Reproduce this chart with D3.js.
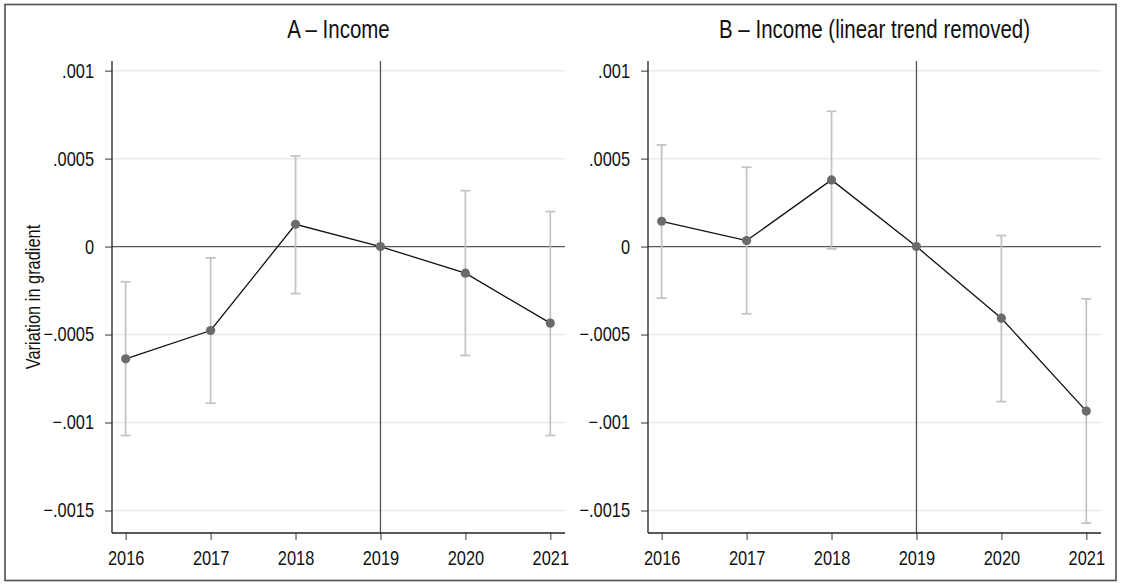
<!DOCTYPE html>
<html>
<head>
<meta charset="utf-8">
<script src="https://cdn.jsdelivr.net/npm/d3@7"></script>
<style>
  body { margin: 0; background: #fff; }
  svg { display: block; }
  text { font-family: "Liberation Sans", Arial, sans-serif; fill: #111; }
</style>
</head>
<body>
<div id="chart"></div>
<script>
// years and estimates
const years = [2016, 2017, 2018, 2019, 2020, 2021];

const incomeCoef = [-0.000638, -0.000477, 0.000127, 0, -0.000151, -0.000435];
const incomeLo   = [-0.001074, -0.00089, -0.000267, null, -0.000619, -0.001074];
const incomeHi   = [-0.0002, -0.000064, 0.000515, null, 0.000318, 0.000199];

const trendCoef = [0.000144, 0.000034, 0.000379, 0, -0.000407, -0.000935];
const trendLo   = [-0.000293, -0.000382, -0.000013, null, -0.000881, -0.001572];
const trendHi   = [0.000578, 0.000451, 0.000769, null, 0.000063, -0.000297];

const yTicks = [0.001, 0.0005, 0, -0.0005, -0.001, -0.0015];
const yTickLabels = [".001", ".0005", "0", "\u2212.0005", "\u2212.001", "\u2212.0015"];

const panelTitles = ["A \u2013 Income", "B \u2013 Income (linear trend removed)"];
const yTitle = "Variation in gradient";
const refYear = 2019;

const W = 1121, H = 585;
const NARROW = 0.82;  // squeeze regular sans to look like Arial Narrow

const svg = d3.select("#chart").append("svg")
    .attr("width", W)
    .attr("height", H);

svg.append("rect").attr("width", W).attr("height", H).attr("fill", "#fff");

// outer frame
svg.append("rect")
    .attr("x", 5).attr("y", 4.5)
    .attr("width", 1111).attr("height", 576)
    .attr("fill", "none")
    .attr("stroke", "#505050")
    .attr("stroke-width", 1.6);

const plotTop = 61, plotBottom = 533;

const y = d3.scaleLinear()
    .domain([-0.001628, 0.001055])
    .range([plotBottom, plotTop]);

// condense text horizontally, keeping its x anchor in place
function narrow(sel) {
    sel.each(function() {
        const t = d3.select(this);
        const x0 = +t.attr("x") || 0;
        t.attr("x", x0 / NARROW).attr("transform", `scale(${NARROW},1)`);
    });
}

function drawPanel(left, title, coef, lo, hi, showYTitle) {
    const right = left + 453;
    const x = d3.scaleLinear()
        .domain([2015.839, 2021.173])
        .range([left, right]);

    const g = svg.append("g");

    // grid lines
    g.append("g").selectAll("line")
        .data(yTicks.filter(d => d !== 0))
      .enter().append("line")
        .attr("x1", left).attr("x2", right)
        .attr("y1", d => y(d)).attr("y2", d => y(d))
        .attr("stroke", "#eaeaea")
        .attr("stroke-width", 1.5);

    // zero line and reference year line
    g.append("line")
        .attr("x1", left).attr("x2", right)
        .attr("y1", y(0)).attr("y2", y(0))
        .attr("stroke", "#555").attr("stroke-width", 1.3);
    g.append("line")
        .attr("x1", x(refYear)).attr("x2", x(refYear))
        .attr("y1", plotTop).attr("y2", plotBottom)
        .attr("stroke", "#555").attr("stroke-width", 1.3);

    // y axis
    const yAxis = g.append("g")
        .attr("transform", `translate(${left},0)`)
        .call(d3.axisLeft(y).tickValues(yTicks)
            .tickFormat((d, i) => yTickLabels[i])
            .tickSize(7).tickPadding(11));
    yAxis.select(".domain").remove();
    yAxis.selectAll(".tick line").attr("stroke", "#666").attr("stroke-width", 1.3);
    yAxis.selectAll("text").attr("font-size", 20).attr("font-family", null).attr("fill", "#111")
        .call(narrow);
    g.append("line")
        .attr("x1", left).attr("x2", left)
        .attr("y1", plotTop).attr("y2", plotBottom)
        .attr("stroke", "#222").attr("stroke-width", 1.3);

    // x axis
    const xAxis = g.append("g")
        .attr("transform", `translate(0,${plotBottom})`)
        .call(d3.axisBottom(x).tickValues(years)
            .tickFormat(d3.format("d"))
            .tickSize(7).tickPadding(11));
    xAxis.select(".domain").remove();
    xAxis.selectAll(".tick line").attr("stroke", "#666").attr("stroke-width", 1.3);
    xAxis.selectAll("text").attr("font-size", 20).attr("font-family", null).attr("fill", "#111")
        .call(narrow);
    g.append("line")
        .attr("x1", left).attr("x2", right)
        .attr("y1", plotBottom).attr("y2", plotBottom)
        .attr("stroke", "#222").attr("stroke-width", 1.3);

    // confidence intervals
    const ci = years.map((yr, i) => ({yr, lo: lo[i], hi: hi[i]})).filter(d => d.lo !== null);
    const bars = g.append("g").attr("stroke", "#c2c2c2").attr("stroke-width", 1.7);
    bars.selectAll(".ci").data(ci).enter().append("line")
        .attr("x1", d => x(d.yr)).attr("x2", d => x(d.yr))
        .attr("y1", d => y(d.lo)).attr("y2", d => y(d.hi));
    bars.selectAll(".capHi").data(ci).enter().append("line")
        .attr("x1", d => x(d.yr) - 5).attr("x2", d => x(d.yr) + 5)
        .attr("y1", d => y(d.hi)).attr("y2", d => y(d.hi));
    bars.selectAll(".capLo").data(ci).enter().append("line")
        .attr("x1", d => x(d.yr) - 5).attr("x2", d => x(d.yr) + 5)
        .attr("y1", d => y(d.lo)).attr("y2", d => y(d.lo));

    // estimate line + markers
    const pts = years.map((yr, i) => ({yr, v: coef[i]}));
    g.append("path")
        .datum(pts)
        .attr("fill", "none")
        .attr("stroke", "#111")
        .attr("stroke-width", 1.3)
        .attr("d", d3.line().x(d => x(d.yr)).y(d => y(d.v)));
    g.selectAll(".dot").data(pts).enter().append("circle")
        .attr("cx", d => x(d.yr))
        .attr("cy", d => y(d.v))
        .attr("r", 4.6)
        .attr("fill", "#6b6b6b");

    // title
    svg.append("text")
        .attr("x", (left + right) / 2)
        .attr("y", 38)
        .attr("text-anchor", "middle")
        .attr("font-size", 25)
        .text(title)
        .call(narrow);

    if (showYTitle) {
        svg.append("g")
            .attr("transform", `translate(40,${(plotTop + plotBottom) / 2}) rotate(-90)`)
          .append("text")
            .attr("text-anchor", "middle")
            .attr("font-size", 20)
            .text(yTitle)
            .call(narrow);
    }
}

drawPanel(112, panelTitles[0], incomeCoef, incomeLo, incomeHi, true);
drawPanel(648, panelTitles[1], trendCoef, trendLo, trendHi, false);
</script>
</body>
</html>
